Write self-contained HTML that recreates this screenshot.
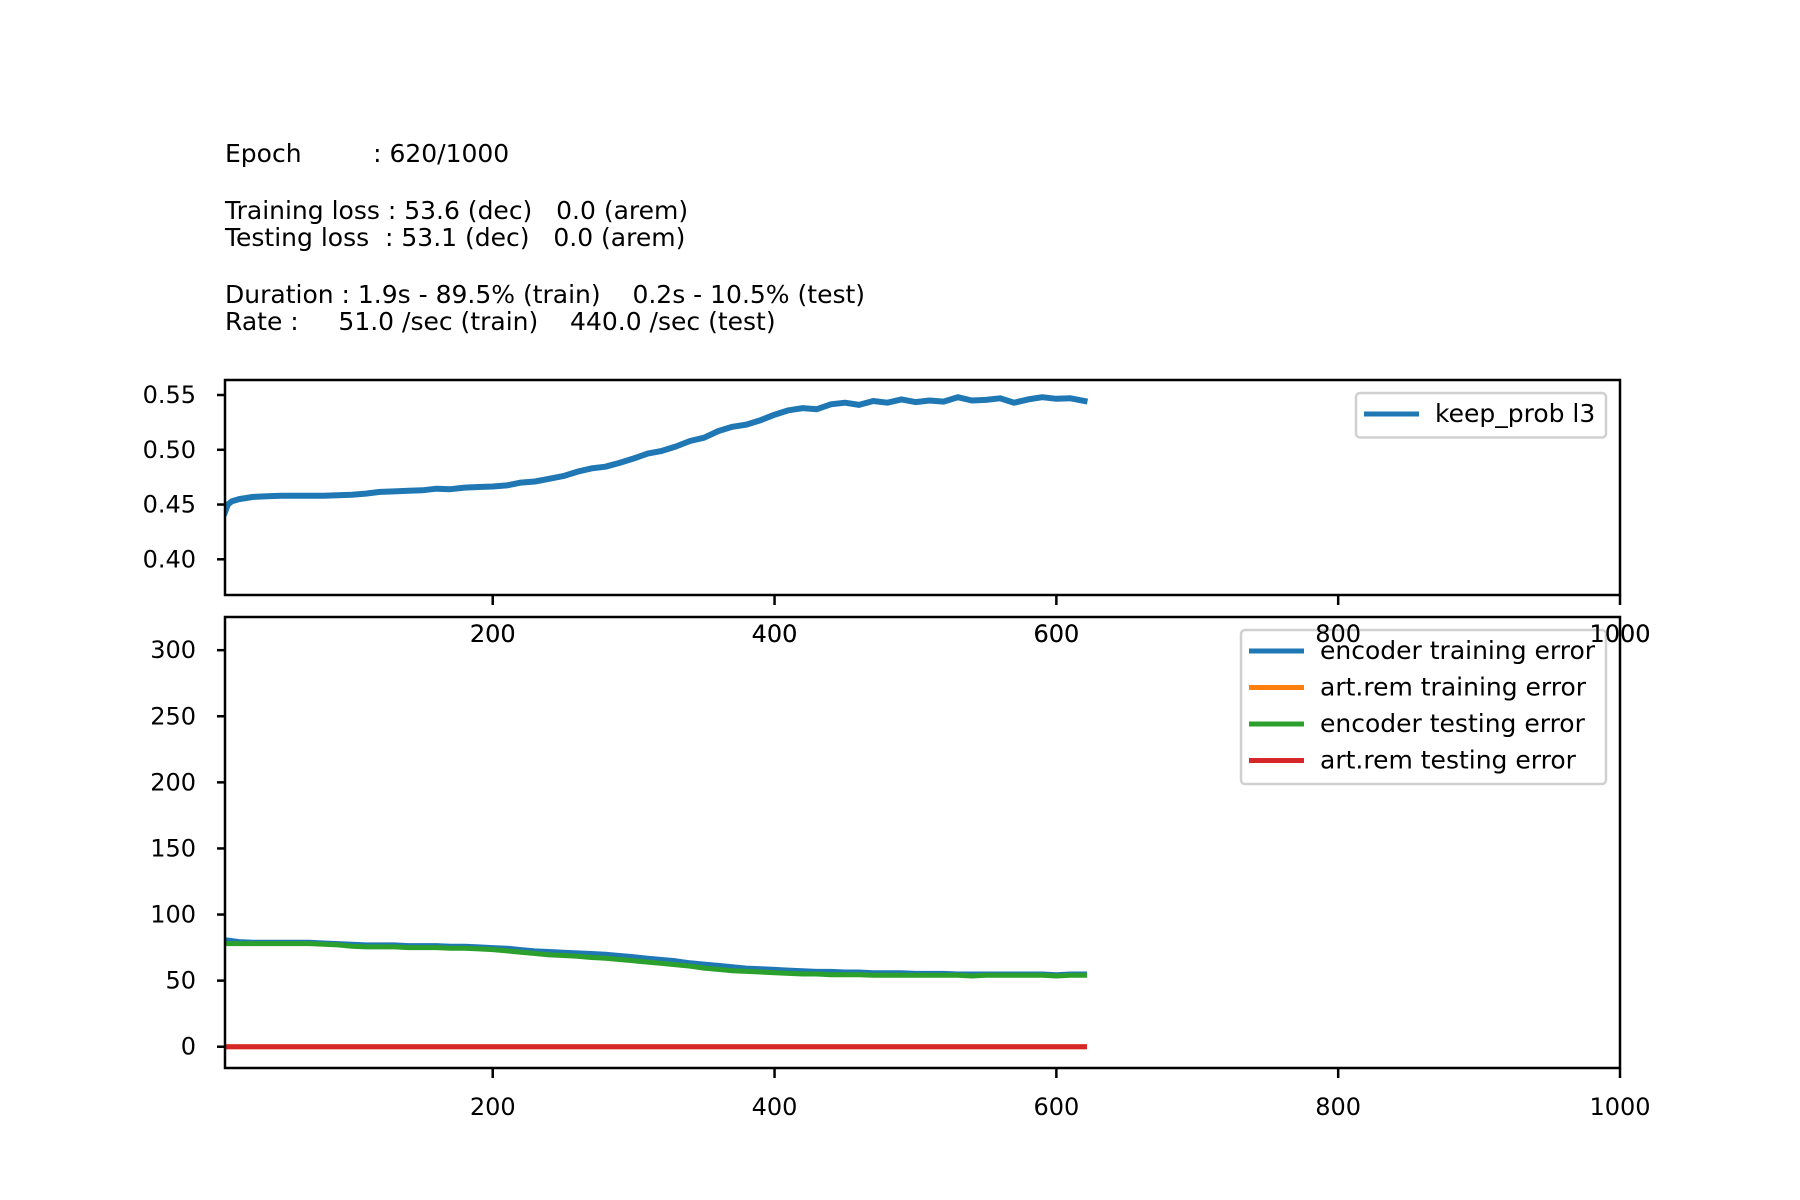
<!DOCTYPE html>
<html>
<head>
<meta charset="utf-8">
<style>
html,body{margin:0;padding:0;background:#fff;}
svg{display:block;}
text{font-family:"DejaVu Sans","Liberation Sans",sans-serif;fill:#000;}
</style>
</head>
<body>
<svg id="fig" width="1800" height="1200" viewBox="0 0 1800 1200" xmlns="http://www.w3.org/2000/svg">
<rect width="1800" height="1200" fill="#fff"/>
<g font-size="25">
<text x="225" y="162" xml:space="preserve">Epoch         : 620/1000</text>
<text x="225" y="219" xml:space="preserve">Training loss : 53.6 (dec)   0.0 (arem)</text>
<text x="225" y="246" xml:space="preserve">Testing loss  : 53.1 (dec)   0.0 (arem)</text>
<text x="225" y="303" xml:space="preserve">Duration : 1.9s - 89.5% (train)    0.2s - 10.5% (test)</text>
<text x="225" y="330" xml:space="preserve">Rate :     51.0 /sec (train)    440.0 /sec (test)</text>
</g>
<g id="top"></g>
<g id="bot"></g>
</svg>
<script>
// ---- data ----
const kpEpochs = [10,12,15,20,30,40,50,60,70,80,90,100,110,120,130,140,150,160,170,180,190,200,210,220,230,240,250,260,270,280,290,300,310,320,330,340,350,360,370,380,390,400,410,420,430,440,450,460,470,480,490,500,510,520,530,540,550,560,570,580,590,600,610,620];
const keepProb = [0.443,0.450,0.453,0.455,0.457,0.4575,0.458,0.458,0.458,0.458,0.4585,0.459,0.460,0.4615,0.462,0.4625,0.463,0.4645,0.464,0.4655,0.466,0.4665,0.4675,0.470,0.471,0.4735,0.476,0.480,0.483,0.4845,0.488,0.492,0.4965,0.499,0.503,0.508,0.511,0.517,0.521,0.523,0.527,0.532,0.536,0.538,0.537,0.5415,0.543,0.541,0.5445,0.543,0.546,0.5435,0.545,0.544,0.548,0.545,0.5455,0.547,0.543,0.546,0.548,0.5465,0.547,0.5445];
const errEpochs = [10,20,30,40,50,60,70,80,90,100,110,120,130,140,150,160,170,180,190,200,210,220,230,240,250,260,270,280,290,300,310,320,330,340,350,360,370,380,390,400,410,420,430,440,450,460,470,480,490,500,510,520,530,540,550,560,570,580,590,600,610,620];
const encTrain = [81,79.5,79,79,79,79,79,78.5,78,77.5,77,77,77,76.5,76.5,76.5,76,76,75.5,75,74.5,73.5,72.5,72,71.5,71,70.5,70,69,68,67,66,65,63.5,62.5,61.5,60.5,59.5,59,58.5,58,57.5,57,57,56.5,56.5,56,56,56,55.5,55.5,55.5,55,55,55,55,55,55,55,54.5,55,55];
const encTest = [78,78,78,78,78,78,78,77.5,77,76,75.5,75.5,75.5,75,75,75,74.5,74.5,74,73.5,72.5,71.5,70.5,69.5,69,68.5,67.5,67,66,65,64,63,62,61,59.5,58.5,57.5,57,56.5,56,55.5,55,55,54.5,54.5,54.5,54,54,54,54,54,54,54,53.5,54,54,54,54,54,53.5,54,54];
const aremTrain = [0,0,0,0,0,0,0,0,0,0,0,0,0,0,0,0,0,0,0,0,0,0,0,0,0,0,0,0,0,0,0,0,0,0,0,0,0,0,0,0,0,0,0,0,0,0,0,0,0,0,0,0,0,0,0,0,0,0,0,0,0,0];
const aremTest = [0,0,0,0,0,0,0,0,0,0,0,0,0,0,0,0,0,0,0,0,0,0,0,0,0,0,0,0,0,0,0,0,0,0,0,0,0,0,0,0,0,0,0,0,0,0,0,0,0,0,0,0,0,0,0,0,0,0,0,0,0,0];
const xTicks = [200,400,600,800,1000];
const topYTicks = [0.40,0.45,0.50,0.55];
const botYTicks = [0,50,100,150,200,250,300];

const NS = "http://www.w3.org/2000/svg";
function mk(parent, tag, attrs){
  const e = document.createElementNS(NS, tag);
  for (const k in attrs) e.setAttribute(k, attrs[k]);
  parent.appendChild(e);
  return e;
}
const L = 225, R = 1620;
const xMin = 10, xMax = 1000;
const sx = v => L + (v - xMin) / (xMax - xMin) * (R - L);

function axes(g, top, bottom, yMin, yMax, yTicks, fmt, labelY){
  const sy = v => bottom - (v - yMin) / (yMax - yMin) * (bottom - top);
  for (const t of yTicks){
    const y = sy(t);
    const tk = mk(g, 'line', {x1:L-8, x2:L, y1:y, y2:y, stroke:'#000', 'stroke-width':2.5});
    
    
    const tx = mk(g, 'text', {x:L-29, y:y+8, 'text-anchor':'end', 'font-size':24});
    tx.textContent = fmt(t);
    
    
  }
  for (const t of xTicks){
    const x = sx(t);
    const tk = mk(g, 'line', {x1:x, x2:x, y1:bottom, y2:bottom+10, stroke:'#000', 'stroke-width':2.5});
    
    
    const tx = mk(g, 'text', {x:x, y:labelY, 'text-anchor':'middle', 'font-size':24});
    tx.textContent = String(t);
    
    
  }
  return sy;
}
function line(g, xs, ys, sy, color, name, w){
  const d = xs.map((x,i)=> (i?'L':'M') + sx(x).toFixed(1) + ' ' + sy(ys[i]).toFixed(1)).join(' ');
  const p = mk(g, 'path', {d:d, fill:'none', stroke:color, 'stroke-width':w, 'stroke-linejoin':'round', 'stroke-linecap':'square', 'clip-path':g.getAttribute('data-clip')});
  
  
}
function frame(g, top, bottom){
  const r = mk(g, 'rect', {x:L, y:top, width:R-L, height:bottom-top, fill:'none', stroke:'#000', 'stroke-width':2.5});
  
  
}
function legend(g, x, y, w, rows){
  const h = rows.length*36.5 + 8;
  const b = mk(g, 'rect', {x:x, y:y, width:w, height:h, rx:4, fill:'#fff', 'fill-opacity':0.8, stroke:'#d0d0d0', 'stroke-width':2.5});
  
  
  rows.forEach((r,i)=>{
    const cy = y + 21 + i*36.5;
    const ln = mk(g, 'line', {x1:x+8, x2:x+63, y1:cy, y2:cy, stroke:r[1], 'stroke-width':5});
    
    
    const t = mk(g, 'text', {x:x+79, y:cy+8, 'font-size':25});
    t.textContent = r[0];
    
    
  });
}
const defs = mk(document.getElementById('fig'), 'defs', {});
const c1 = mk(defs, 'clipPath', {id:'c1'}); mk(c1, 'rect', {x:L, y:380, width:R-L, height:215});
const c2 = mk(defs, 'clipPath', {id:'c2'}); mk(c2, 'rect', {x:L, y:617, width:R-L, height:451});

// top chart
const gt = document.getElementById('top');
gt.setAttribute('data-clip', 'url(#c1)');
const syT = axes(gt, 380, 595, 0.3674, 0.5637, topYTicks, v=>v.toFixed(2), 642);
line(gt, kpEpochs, keepProb, syT, '#1f77b4', 'keep-prob-line', 6);
frame(gt, 380, 595);
legend(gt, 1356, 393, 250, [['keep_prob l3','#1f77b4']]);

// bottom chart
const gb = document.getElementById('bot');
gb.setAttribute('data-clip', 'url(#c2)');
const syB = axes(gb, 617, 1068, -16.1, 325.1, botYTicks, v=>String(v), 1115);
line(gb, errEpochs, encTrain, syB, '#1f77b4', 'encoder-training-error-line', 5);
line(gb, errEpochs, aremTrain, syB, '#ff7f0e', 'artrem-training-error-line', 5);
line(gb, errEpochs, encTest, syB, '#2ca02c', 'encoder-testing-error-line', 5);
line(gb, errEpochs, aremTest, syB, '#d62728', 'artrem-testing-error-line', 5);
frame(gb, 617, 1068);
legend(gb, 1241, 630, 365, [['encoder training error','#1f77b4'],['art.rem training error','#ff7f0e'],['encoder testing error','#2ca02c'],['art.rem testing error','#d62728']]);
// top chart x tick labels overlap bottom axes; draw them last
const overlay = mk(document.getElementById('fig'), 'g', {});


for (const t of xTicks){
  const tx = mk(overlay, 'text', {x:sx(t), y:642, 'text-anchor':'middle', 'font-size':24});
  tx.textContent = String(t);
  
  
}
</script>
</body>
</html>
